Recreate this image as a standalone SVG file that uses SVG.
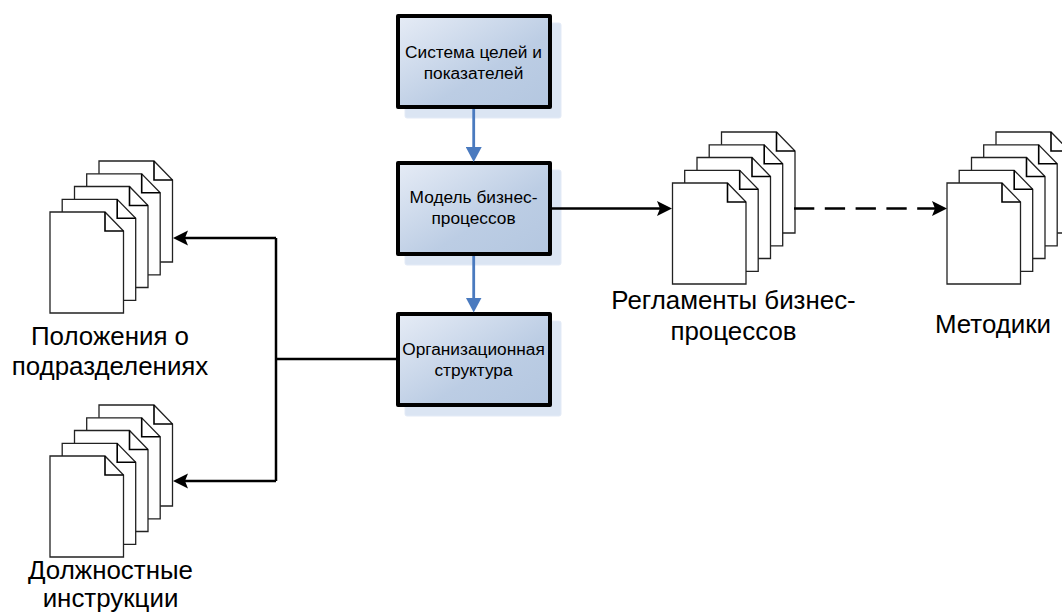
<svg xmlns="http://www.w3.org/2000/svg" xmlns:xlink="http://www.w3.org/1999/xlink" width="1062" height="613" viewBox="0 0 1062 613">
<style>
text{font-family:"Liberation Sans",Arial,sans-serif;fill:#000;text-anchor:middle}
.s{font-size:17.300px}.l{font-size:25.900px}
.box{fill:url(#g);stroke:#000;stroke-width:4;stroke-linejoin:round}
.sh{fill:#dbe5f3;stroke:#e3eaf6;stroke-width:1}
.d{fill:#fff;stroke:#222;stroke-width:1.3}
.f{fill:none;stroke:#000;stroke-width:1.6}
.c{fill:none;stroke:#000;stroke-width:2.500}
.b{fill:none;stroke:#4a7abf;stroke-width:2.800}
</style>
<defs>
<linearGradient id="g" x1="0" y1="0" x2="1" y2="1"><stop offset="0" stop-color="#e6ecf6"/><stop offset=".6" stop-color="#bccde4"/><stop offset="1" stop-color="#b4c7e0"/></linearGradient>
<marker id="ak" markerUnits="userSpaceOnUse" markerWidth="16" markerHeight="16" refX="3" refY="8" orient="auto"><path d="M0 .5L15 8L0 15.500L3 8Z" fill="#000"/></marker>
<marker id="ab" markerUnits="userSpaceOnUse" markerWidth="16" markerHeight="16" refX="2" refY="8" orient="auto"><path d="M0 0L15 8L0 16Z" fill="#4a7abf"/></marker>
<g id="page"><path class="d" d="M0 0H55L73.500 19V101H0Z"/><path class="f" d="M55 0V19H73.500"/></g>
<g id="stack">
<use xlink:href="#page" x="49" y="-51"/><use xlink:href="#page" x="36.700" y="-38.200"/><use xlink:href="#page" x="24.500" y="-25.500"/><use xlink:href="#page" x="12.200" y="-12.700"/><use xlink:href="#page"/>
</g>
</defs>
<g id="n-goals"><rect class="sh" x="405" y="23" width="156" height="95" rx="2"/><rect class="box" x="398" y="16" width="152" height="91"/><text class="s" x="473.500" y="58">Система целей и</text><text class="s" x="473.500" y="78.500">показателей</text></g>
<g id="n-process"><rect class="sh" x="405" y="170" width="156" height="95" rx="2"/><rect class="box" x="398" y="163" width="152" height="91"/><text class="s" x="473.500" y="203">Модель бизнес-</text><text class="s" x="473.500" y="223.500">процессов</text></g>
<g id="n-org"><rect class="sh" x="405" y="321" width="156" height="95" rx="2"/><rect class="box" x="398" y="314" width="152" height="91"/><text class="s" x="473.500" y="355">Организационная</text><text class="s" x="473.500" y="375.500">структура</text></g>
<g id="n-regs"><use xlink:href="#stack" x="672.500" y="183"/><text class="l" x="733.500" y="309">Регламенты бизнес-</text><text class="l" x="733.500" y="339.500">процессов</text></g>
<g id="n-methods"><use xlink:href="#stack" x="947" y="183"/><text class="l" x="993" y="333">Методики</text></g>
<g id="n-units"><use xlink:href="#stack" x="50" y="212"/><text class="l" x="110" y="344.500">Положения о</text><text class="l" x="110" y="375">подразделениях</text></g>
<g id="n-jobs"><use xlink:href="#stack" x="50" y="456"/><text class="l" x="110.500" y="579">Должностные</text><text class="l" x="110.500" y="606.500">инструкции</text></g>
<g id="connectors">
<path class="b" d="M473.700 109V149" marker-end="url(#ab)"/>
<path class="b" d="M473.700 256V299.500" marker-end="url(#ab)"/>
<path class="c" d="M552 208.500H660" marker-end="url(#ak)"/>
<path class="c" stroke-dasharray="20.300 10.500" d="M794 208.500H935" marker-end="url(#ak)"/>
<path class="c" d="M396 359H276"/>
<path class="c" d="M276 238V481"/>
<path class="c" d="M276 238H185" marker-end="url(#ak)"/>
<path class="c" d="M276 481H185" marker-end="url(#ak)"/>
</g>
</svg>
